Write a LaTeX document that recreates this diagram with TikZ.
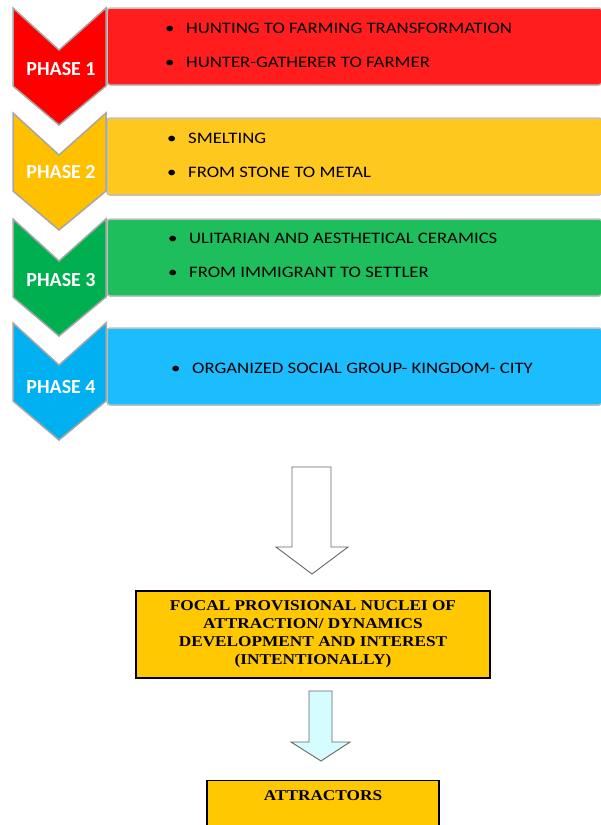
\documentclass[tikz,border=0pt]{standalone}
\usepackage{fontspec}
\setmainfont{Liberation Serif}
\newfontfamily\phasefont{Carlito}
\newfontfamily\itemfont[FakeStretch=1.17]{Carlito}
\newfontfamily\boxfont[FakeStretch=1.15]{Liberation Serif}
\usepackage{tikz}
\usetikzlibrary{positioning}
\definecolor{chev1}{HTML}{FF0000}
\definecolor{band1}{HTML}{FF1D1D}
\definecolor{chev2}{HTML}{FFC000}
\definecolor{band2}{HTML}{FFC81E}
\definecolor{chev3}{HTML}{00B050}
\definecolor{band3}{HTML}{1DBE5B}
\definecolor{chev4}{HTML}{00B0F0}
\definecolor{band4}{HTML}{1BBDFF}
\definecolor{gold}{HTML}{FFC800}
\definecolor{ice}{HTML}{D5FCFF}
\newcommand{\bul}{\makebox[21pt][l]{\textbullet}}

\begin{document}
\begin{tikzpicture}[x=1pt,y=-1pt,
    chevron/.style={draw=black!35,line width=1.5pt},
    band/.style={draw=black!25,line width=1.5pt,rounded corners=3pt},
    phase/.style={text=white,font=\phasefont\bfseries\fontsize{20}{20}\selectfont},
    item/.style={anchor=west,inner sep=0pt,font=\itemfont\fontsize{16}{16}\selectfont},
    goldbox/.style={draw=black,line width=1.2pt,fill=gold},
    boxtext/.style={align=center,inner sep=0pt,font=\boxfont\bfseries\fontsize{15}{18}\selectfont},
    blockarrow/.style={draw=black!60,line width=0.9pt,line join=miter}]
    \useasboundingbox (0,0) rectangle (601,825);
    \fill[white] (0,0) rectangle (601,825);
    \foreach \ct/\rt/\cc/\bc in {8/8/chev1/band1,113/118/chev2/band2,219/219/chev3/band3,323/328/chev4/band4} {
      \draw[band,fill=\bc] (107,\rt) rectangle (602,\rt+77);
      \draw[chevron,fill=\cc] (13,\ct) -- (59,\ct+42) -- (106,\ct) -- (106,\ct+78) -- (59,\ct+117) -- (13,\ct+78) -- cycle;
    }
    \node[phase] (p1) at (61,69) {PHASE 1};
    \node[phase] (p2) at (61,172) {PHASE 2};
    \node[phase] (p3) at (61,280) {PHASE 3};
    \node[phase] (p4) at (61,387) {PHASE 4};
    \node[item] (hunt) at (165,28) {\bul HUNTING TO FARMING TRANSFORMATION};
    \node[item] (farmer) at (165,62) {\bul HUNTER-GATHERER TO FARMER};
    \node[item] (smelt) at (167,138) {\bul SMELTING};
    \node[item] (metal) at (167,172) {\bul FROM STONE TO METAL};
    \node[item] (ceram) at (168,238) {\bul ULITARIAN AND AESTHETICAL CERAMICS};
    \node[item] (settler) at (168,272) {\bul FROM IMMIGRANT TO SETTLER};
    \node[item] (city) at (171,368) {\bul ORGANIZED SOCIAL GROUP- KINGDOM- CITY};
    \draw[blockarrow,fill=white] (292,467) -- (331,467) -- (331,547) -- (348,547) -- (312,574) -- (276,547) -- (292,547) -- cycle;
    \node[goldbox,minimum width=354pt,minimum height=87pt] (focal) at (313,634.5) {};
    \node[boxtext] (focaltxt) at (focal.center) {FOCAL PROVISIONAL NUCLEI OF\\ATTRACTION/ DYNAMICS\\DEVELOPMENT AND INTEREST\\(INTENTIONALLY)};
    \draw[blockarrow,fill=ice] (309,691) -- (332,691) -- (332,742) -- (350,742) -- (321,761) -- (291,742) -- (309,742) -- cycle;
    \node[goldbox,anchor=north,minimum width=232pt,minimum height=70pt] (attr) at (323,780) {};
    \node[boxtext,below=10pt of attr.north] (attrtxt) {ATTRACTORS};
\end{tikzpicture}
\end{document}
